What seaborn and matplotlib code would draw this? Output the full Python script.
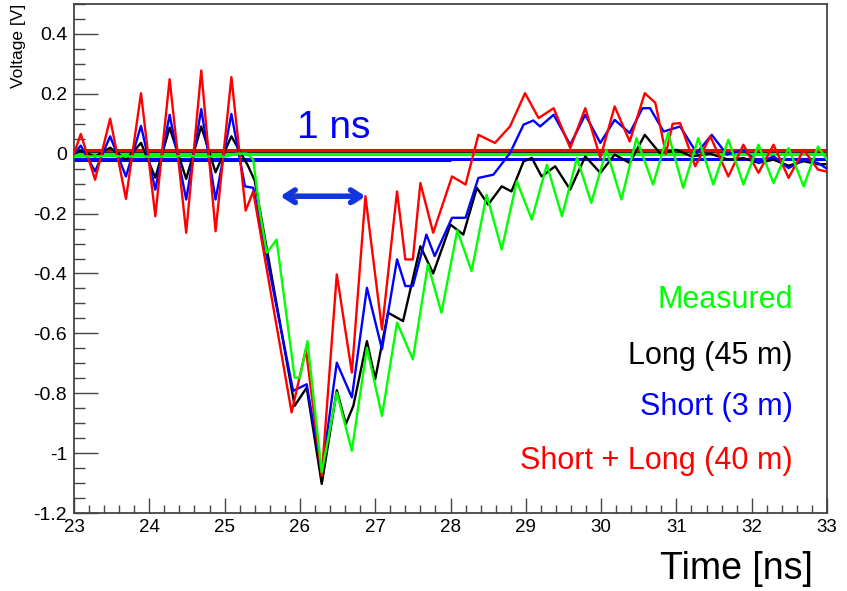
import numpy as np
import pandas as pd
import seaborn as sns
import matplotlib
matplotlib.use("Agg")
import matplotlib.pyplot as plt
import matplotlib.patheffects as pe

# waveforms (time in ns, voltage in V)
t_meas = [23.0, 23.5, 24.0, 24.5, 25.0, 25.15, 25.3, 25.38, 25.47, 25.56, 25.69, 25.93, 26.0,
          26.1, 26.29, 26.49, 26.69, 26.89, 27.09, 27.29, 27.5, 27.7, 27.88, 28.09, 28.28,
          28.48, 28.68, 28.88, 29.08, 29.28, 29.48, 29.68, 29.87, 30.07, 30.27, 30.47, 30.69,
          30.89, 31.09, 31.29, 31.49, 31.69, 31.89, 32.09, 32.29, 32.49, 32.69, 32.88, 33.0]
v_meas = [-0.01, -0.008, -0.01, -0.008, -0.01, 0.0, 0.0, -0.02, -0.198, -0.331, -0.287, -0.748, -0.748,
          -0.626, -1.064, -0.798, -0.992, -0.648, -0.876, -0.564, -0.687, -0.37, -0.531, -0.256, -0.392,
          -0.137, -0.32, -0.092, -0.22, -0.037, -0.209, -0.014, -0.164, 0.013, -0.153, 0.052, -0.103,
          0.069, -0.114, 0.052, -0.103, 0.047, -0.103, 0.03, -0.098, 0.019, -0.109, 0.024, -0.02]

t_long = [23.0, 23.09, 23.28, 23.48, 23.69, 23.89, 24.08, 24.27, 24.49, 24.69, 24.88, 25.09, 25.31,
          25.4, 25.93, 26.09, 26.29, 26.49, 26.61, 26.71, 26.89, 27.0, 27.17, 27.37, 27.6, 27.77,
          28.0, 28.17, 28.35, 28.5, 28.68, 28.81, 28.97, 29.08, 29.21, 29.39, 29.59, 29.79, 29.99,
          30.18, 30.38, 30.58, 30.78, 31.0, 31.2, 31.45, 31.69, 31.89, 32.09, 32.29, 32.49, 32.69,
          32.88, 33.0]
v_long = [0.0, 0.01, -0.01, 0.02, -0.02, 0.036, -0.08, 0.087, -0.084, 0.091, -0.062, 0.058, -0.04,
          -0.09, -0.842, -0.781, -1.103, -0.79, -0.903, -0.842, -0.626, -0.753, -0.531, -0.559, -0.309, -0.4,
          -0.237, -0.27, -0.114, -0.17, -0.109, -0.126, -0.026, -0.014, -0.076, -0.042, -0.12, -0.009, -0.064,
          -0.003, -0.031, 0.063, 0.002, 0.013, -0.009, 0.0, -0.02, -0.015, -0.03, -0.02, -0.04, -0.025,
          -0.035, -0.035]

t_short = [23.0, 23.09, 23.28, 23.48, 23.69, 23.89, 24.08, 24.27, 24.49, 24.69, 24.88, 25.09, 25.27,
           25.38, 25.91, 26.09, 26.29, 26.49, 26.69, 26.89, 27.09, 27.29, 27.4, 27.5, 27.68, 27.79,
           28.02, 28.2, 28.37, 28.57, 28.79, 28.97, 29.1, 29.19, 29.37, 29.59, 29.79, 29.99, 30.18,
           30.38, 30.55, 30.65, 30.83, 31.05, 31.27, 31.47, 31.67, 31.89, 32.09, 32.29, 32.49, 32.69,
           32.88, 33.0]
v_short = [0.0, 0.027, -0.059, 0.058, -0.076, 0.093, -0.12, 0.13, -0.153, 0.149, -0.153, 0.133, -0.109,
           -0.114, -0.792, -0.77, -1.064, -0.698, -0.814, -0.448, -0.653, -0.353, -0.442, -0.442, -0.27, -0.342,
           -0.214, -0.214, -0.081, -0.07, 0.002, 0.097, 0.111, 0.091, 0.13, 0.03, 0.13, 0.036, 0.113,
           0.069, 0.152, 0.152, 0.074, 0.091, 0.002, 0.063, -0.003, 0.013, -0.031, -0.009, -0.048, -0.02,
           -0.031, -0.05]

t_both = [23.0, 23.09, 23.28, 23.48, 23.69, 23.89, 24.08, 24.27, 24.49, 24.69, 24.88, 25.09, 25.28,
          25.38, 25.89, 26.08, 26.29, 26.49, 26.69, 26.87, 27.09, 27.29, 27.4, 27.5, 27.6, 27.77,
          28.02, 28.2, 28.37, 28.59, 28.79, 28.99, 29.17, 29.37, 29.59, 29.79, 29.99, 30.18, 30.38,
          30.58, 30.72, 30.86, 30.95, 31.05, 31.25, 31.45, 31.69, 31.89, 32.09, 32.29, 32.49, 32.69,
          32.88, 33.0]
v_both = [0.0, 0.066, -0.087, 0.117, -0.151, 0.202, -0.209, 0.249, -0.264, 0.278, -0.259, 0.256, -0.19,
          -0.126, -0.864, -0.653, -1.076, -0.403, -0.731, -0.142, -0.587, -0.126, -0.353, -0.353, -0.098, -0.264,
          -0.076, -0.103, 0.063, 0.036, 0.091, 0.202, 0.119, 0.152, 0.019, 0.152, -0.014, 0.158, 0.041,
          0.202, 0.17, 0.0, 0.1, 0.102, -0.042, 0.058, -0.076, 0.03, -0.064, 0.03, -0.081, 0.013,
          -0.053, -0.06]

# flat pedestal lines
base_both = 0.012
base_long = 0.007
base_meas = -0.001
base_short = -0.018
base_short_2 = -0.022   # second blue pedestal, only up to 28 ns
base_short_2_end = 28.0

labels = ["Measured", "Long (45 m)", "Short (3 m)", "Short + Long (40 m)"]
colors = ["#00ff00", "black", "#0000ff", "#ff0000"]
label_y = [-0.487, -0.676, -0.847, -1.026]

arrow_t = [25.74, 26.87]
arrow_v = -0.142

yticks = [0.4, 0.2, 0, -0.2, -0.4, -0.6, -0.8, -1, -1.2]
xticks = list(range(23, 34))

sns.set_style("white")
plt.rcParams['font.family'] = ['Liberation Sans', 'DejaVu Sans']

fig = plt.figure(figsize=(8.47, 5.91), dpi=100)
ax = fig.add_axes([74 / 847, 1 - 513 / 591, (827 - 74) / 847, (513 - 4) / 591])

ax.axhline(base_short, color=colors[2], lw=2.2, zorder=1)
ax.hlines(base_short_2, 23, base_short_2_end, color=colors[2], lw=2.2, zorder=1)
ax.axhline(base_meas, color=colors[0], lw=2.2, zorder=1)
ax.axhline(base_long, color=colors[1], lw=1.2, zorder=1)
ax.axhline(base_both, color=colors[3], lw=2.2, zorder=1)

series = [(t_long, v_long, colors[1]), (t_short, v_short, colors[2]),
          (t_both, v_both, colors[3]), (t_meas, v_meas, colors[0])]
for i, (t, v, c) in enumerate(series):
    df = pd.DataFrame({'time': t, 'volt': v})
    sns.lineplot(data=df, x='time', y='volt', color=c, lw=1.7, ax=ax,
                 estimator=None, sort=False, legend=False, zorder=2 + i)

ax.set_xlim(23, 33)
ax.set_ylim(-1.2, 0.5)
ax.set_xlabel('')
ax.set_ylabel('')

ax.set_xticks(xticks)
ax.set_xticks(np.arange(23, 33.01, 0.2), minor=True)
ax.set_yticks(yticks)
ax.set_yticks(np.arange(-1.2, 0.501, 0.05), minor=True)
ax.set_yticklabels([f'{y:g}' for y in yticks], fontsize=14)
ax.set_xticklabels([str(x) for x in xticks], fontsize=13.5)
ax.tick_params(axis='both', which='both', direction='in', color='#444444', width=1.0,
               left=True, bottom=True, top=False, right=False, labelcolor='black')
ax.tick_params(axis='x', which='major', length=11, pad=4)
ax.tick_params(axis='x', which='minor', length=5.5)
ax.tick_params(axis='y', which='major', length=17, pad=5)
ax.tick_params(axis='y', which='minor', length=8)
for s in ax.spines.values():
    s.set_color('#444444')
    s.set_linewidth(1.3)

for lab, c, y in zip(labels, colors, label_y):
    ax.text(32.545, y, lab, color=c, fontsize=22, ha='right', va='center')

ax.text(26.45, 0.087, '1 ns', color='#0000ff', fontsize=28, ha='center', va='center')
ax.annotate('', xy=(arrow_t[0], arrow_v), xytext=(arrow_t[1], arrow_v),
            arrowprops=dict(arrowstyle='<->,head_length=0.7,head_width=0.45', color='#1034e0',
                            lw=4, shrinkA=0, shrinkB=0,
                            path_effects=[pe.SimplePatchShadow(offset=(2, -2), alpha=0.35), pe.Normal()]),
            zorder=10)

fig.text(813 / 847, 1 - 569 / 591, 'Time [ns]', fontsize=27, ha='right', va='center', color='black')
fig.text(18 / 847, 1 - 4 / 591, 'Voltage [V]', fontsize=12.5, rotation=90, ha='center', va='top',
         color='black')

fig.savefig('out.png', dpi=100)
